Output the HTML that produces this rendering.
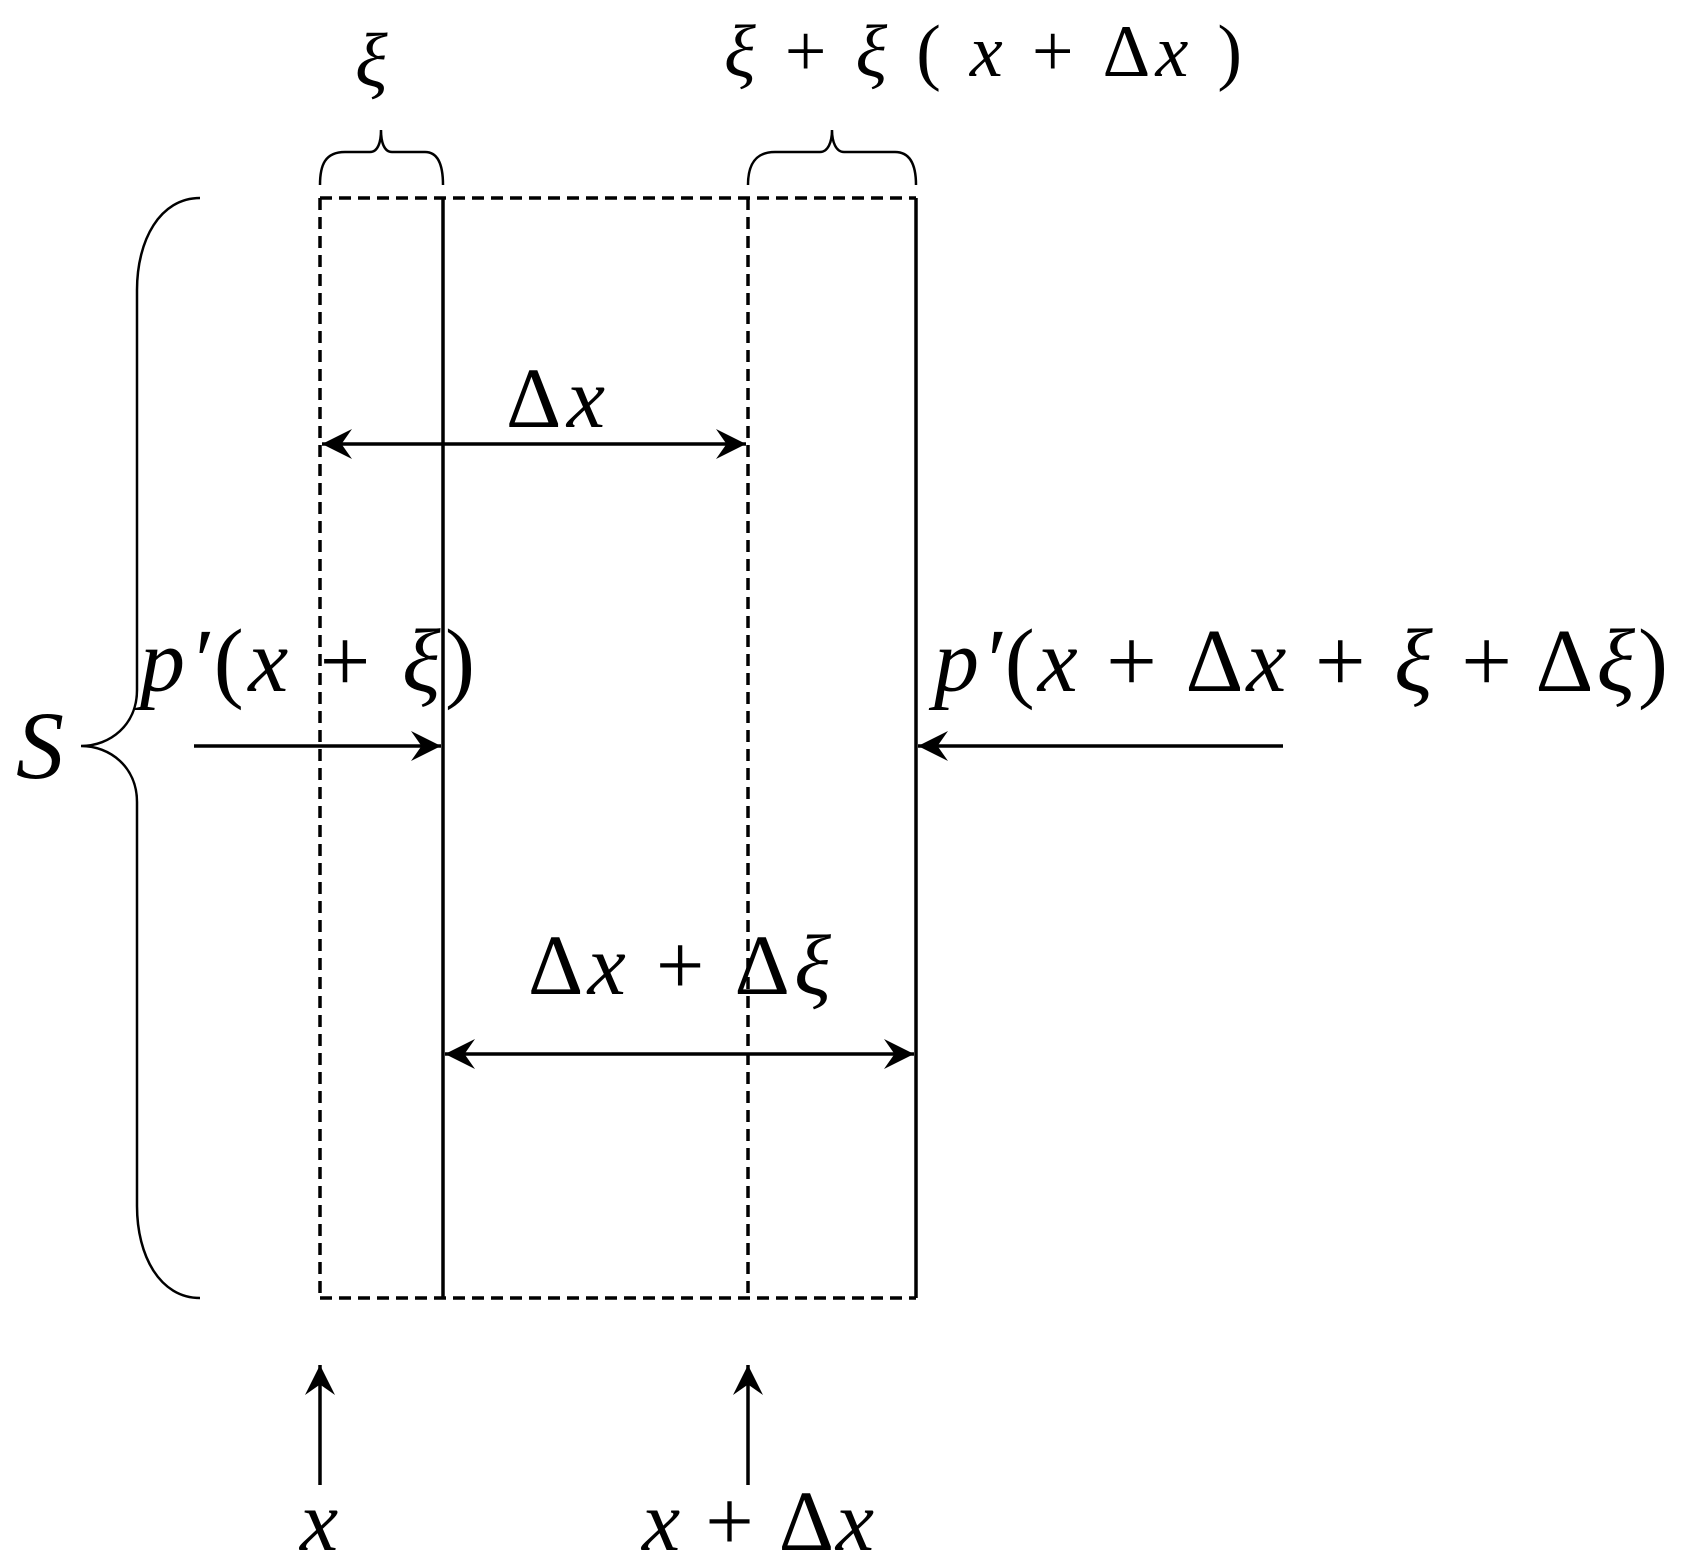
<!DOCTYPE html>
<html><head><meta charset="utf-8"><style>body{margin:0;background:#fff}svg{display:block}text{font-family:"Liberation Serif",serif}</style></head><body>
<svg width="1685" height="1562" viewBox="0 0 1685 1562" xmlns="http://www.w3.org/2000/svg">
<defs>
<marker id="a" viewBox="0 0 20 20" refX="20" refY="10" markerWidth="34" markerHeight="30" markerUnits="userSpaceOnUse" orient="auto-start-reverse">
<path d="M0,0 L20,10 L0,20 L7,10 Z" fill="#000"/>
</marker>
</defs>
<g stroke="#000" stroke-width="3.5" fill="none">
<g stroke-dasharray="12,7">
<line x1="320" y1="198" x2="916" y2="198"/>
<line x1="320" y1="1298" x2="916" y2="1298"/>
<line x1="320" y1="198" x2="320" y2="1298"/>
<line x1="748" y1="198" x2="748" y2="1298"/>
</g>
<line x1="443" y1="198" x2="443" y2="1298"/>
<line x1="916" y1="198" x2="916" y2="1298"/>
<line x1="322" y1="444" x2="746" y2="444" marker-start="url(#a)" marker-end="url(#a)"/>
<line x1="445" y1="1054" x2="914" y2="1054" marker-start="url(#a)" marker-end="url(#a)"/>
<line x1="194" y1="746" x2="441" y2="746" marker-end="url(#a)"/>
<line x1="1283" y1="746" x2="918" y2="746" marker-end="url(#a)"/>
<line x1="320" y1="1485" x2="320" y2="1365" marker-end="url(#a)"/>
<line x1="748" y1="1485" x2="748" y2="1365" marker-end="url(#a)"/>
<path d="M200,198 C160,198 137,240 137,290 L137,690 C137,725 110,746 81,746 C110,746 137,767 137,802 L137,1206 C137,1256 160,1298 200,1298" stroke-width="2.5"/>
<path d="M320,185 C320,165 325,152 345,152 L370,152 C378,152 381,142 381,130 C381,142 384,152 392,152 L425,152 C438,152 443,165 443,185" stroke-width="2.5"/>
<path d="M748,185 C748,165 755,152 775,152 L820,152 C828,152 832,142 832,130 C832,142 836,152 844,152 L895,152 C910,152 916,165 916,185" stroke-width="2.5"/>
</g>
<g font-style="italic" fill="#000">
<text x="355" y="86" font-size="76">ξ</text>
<text x="724" y="76" font-size="74" textLength="518" lengthAdjust="spacing">ξ <tspan font-style="normal">+</tspan> ξ <tspan font-style="normal">(</tspan> x <tspan font-style="normal">+ Δ</tspan>x <tspan font-style="normal">)</tspan></text>
<text x="506" y="427" font-size="86" textLength="99" lengthAdjust="spacing"><tspan font-style="normal">Δ</tspan>x</text>
<text x="140" y="691" font-size="90" textLength="335" lengthAdjust="spacing">p′<tspan font-style="normal">(</tspan>x <tspan font-style="normal">+</tspan> ξ<tspan font-style="normal">)</tspan></text>
<text x="934" y="691" font-size="90" textLength="734" lengthAdjust="spacing">p′<tspan font-style="normal">(</tspan>x <tspan font-style="normal">+ Δ</tspan>x <tspan font-style="normal">+</tspan> ξ <tspan font-style="normal">+ Δ</tspan>ξ<tspan font-style="normal">)</tspan></text>
<text x="16" y="778" font-size="96">S</text>
<text x="528" y="994" font-size="86" textLength="303" lengthAdjust="spacing"><tspan font-style="normal">Δ</tspan>x <tspan font-style="normal">+ Δ</tspan>ξ</text>
<text x="300" y="1550" font-size="86">x</text>
<text x="642" y="1550" font-size="86" textLength="232" lengthAdjust="spacing">x <tspan font-style="normal">+ Δ</tspan>x</text>
</g>
</svg>
</body></html>
